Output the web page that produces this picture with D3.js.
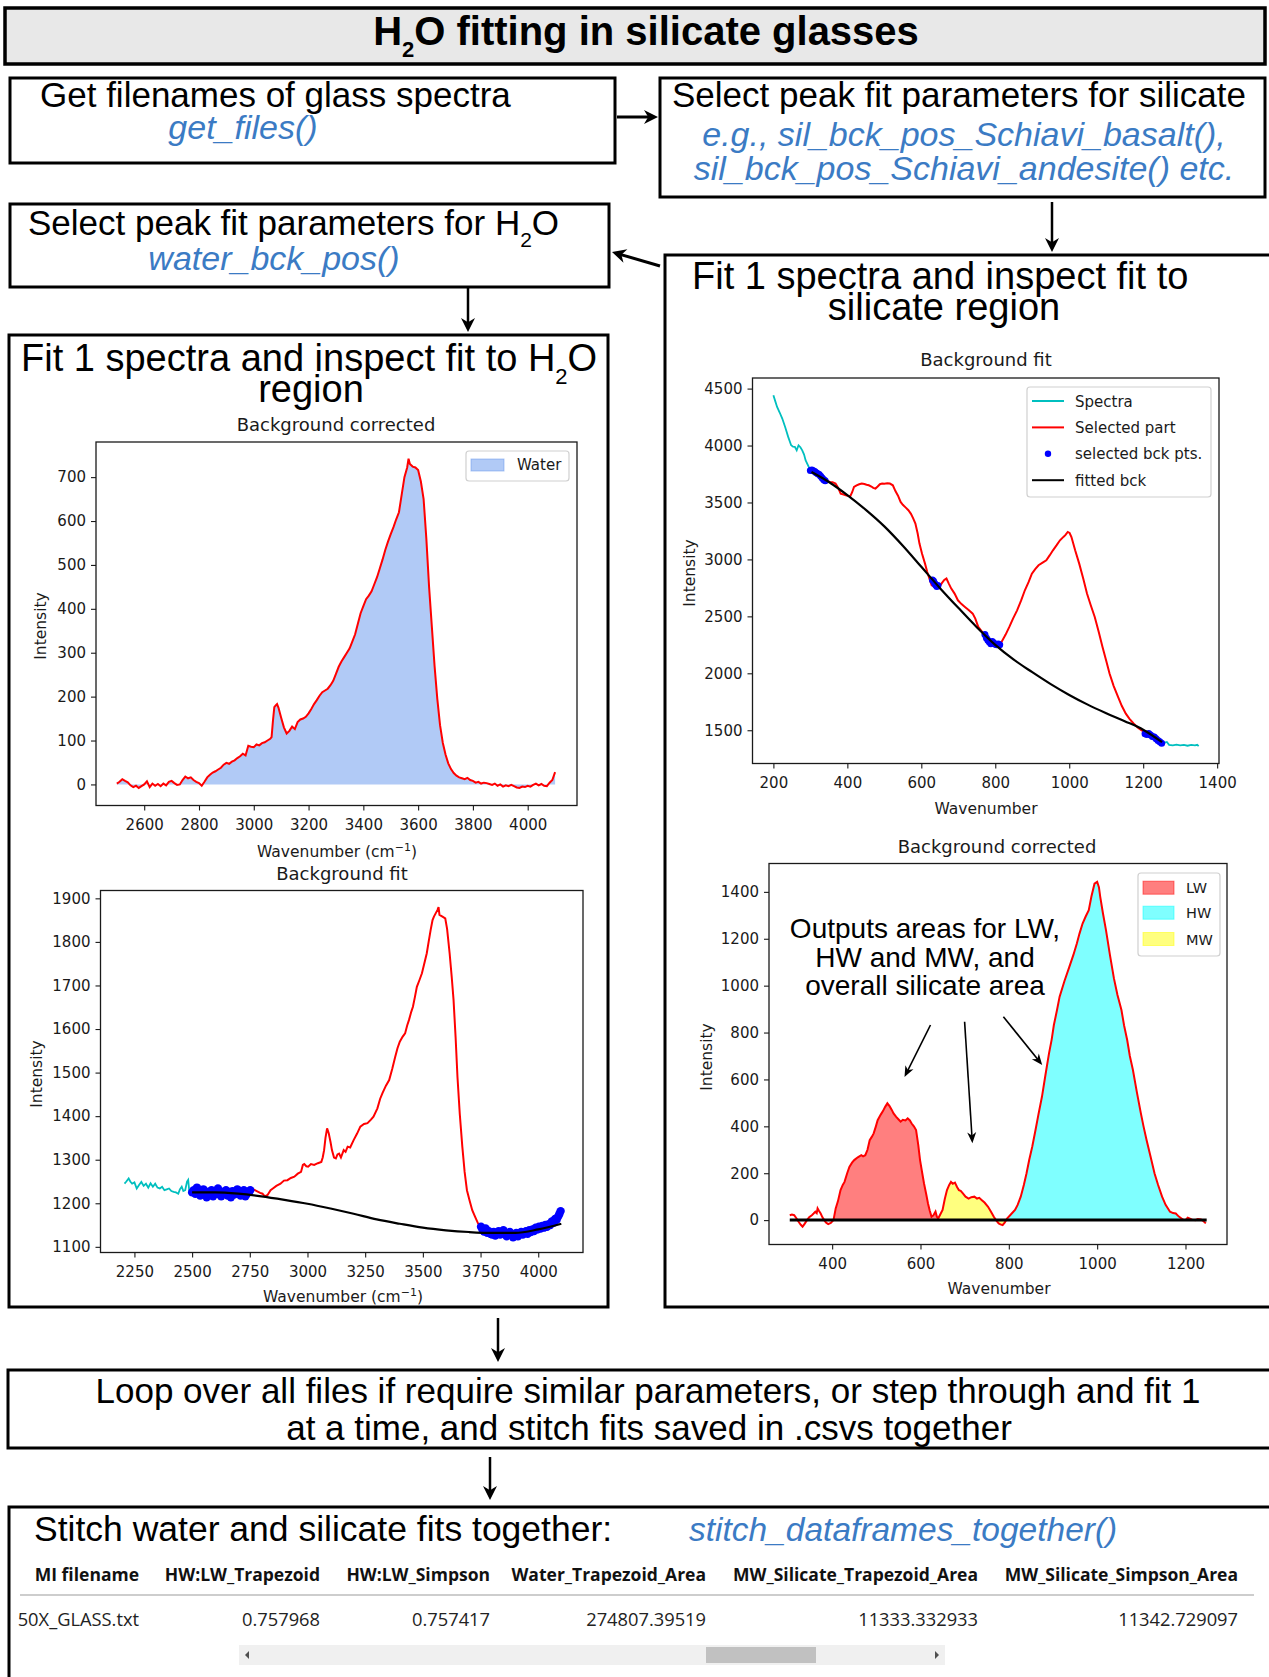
<!DOCTYPE html>
<html><head><meta charset="utf-8">
<script src="https://cdn.jsdelivr.net/npm/d3@7"></script>
<style>body{margin:0;background:#fff}svg{display:block}</style>
</head><body>
<svg id="c" width="1269" height="1677"></svg>
<script>
// ---------------- DATA ----------------
// Top-left: background-corrected water spectrum [wavenumber, intensity]
const waterCorr = [[2500,2],[2510,6],[2520,12],[2530,8],[2540,5],[2550,-2],[2560,-6],[2570,-3],[2580,-8],[2590,-4],[2600,0],[2610,7],[2620,-6],[2630,2],[2640,-3],[2650,1],[2660,-4],[2670,2],[2680,-2],[2690,6],[2700,8],[2710,3],[2720,-1],[2730,0],[2740,10],[2750,18],[2760,14],[2770,16],[2780,10],[2790,6],[2800,3],[2810,-3],[2820,6],[2830,16],[2840,22],[2850,27],[2860,30],[2870,34],[2880,38],[2890,45],[2900,49],[2910,47],[2920,52],[2930,55],[2940,60],[2950,64],[2960,70],[2970,66],[2980,88],[2990,86],[3000,85],[3010,91],[3020,89],[3030,94],[3040,96],[3050,100],[3060,104],[3065,108],[3070,145],[3075,176],[3080,180],[3085,183],[3090,175],[3100,152],[3110,130],[3120,116],[3130,122],[3140,132],[3150,126],[3160,142],[3170,148],[3180,150],[3190,154],[3200,162],[3210,172],[3220,183],[3230,192],[3240,202],[3250,210],[3260,214],[3270,218],[3280,226],[3290,236],[3300,252],[3310,268],[3320,280],[3330,290],[3340,300],[3350,310],[3360,326],[3370,342],[3380,366],[3390,390],[3400,406],[3410,422],[3420,430],[3430,440],[3440,456],[3450,472],[3460,492],[3470,512],[3480,534],[3490,553],[3500,570],[3510,586],[3520,604],[3530,620],[3540,660],[3550,700],[3560,722],[3565,742],[3570,730],[3580,724],[3590,722],[3600,716],[3610,690],[3620,650],[3630,560],[3640,450],[3650,360],[3660,270],[3670,195],[3680,135],[3690,95],[3700,68],[3710,48],[3720,35],[3730,26],[3740,20],[3750,16],[3760,14],[3770,12],[3780,15],[3790,10],[3800,8],[3810,4],[3820,6],[3830,2],[3840,4],[3850,3],[3860,1],[3870,-1],[3880,2],[3890,-3],[3900,0],[3910,-5],[3920,-2],[3930,-4],[3940,-1],[3950,-4],[3960,-7],[3970,-8],[3980,-5],[3990,-6],[4000,-3],[4010,-5],[4020,-1],[4030,2],[4040,-2],[4050,1],[4060,-3],[4070,-4],[4080,4],[4090,10],[4100,28]];

// Bottom-left: water background fit
const waterSpectra = [[2207,1245],[2215,1250],[2225,1257],[2232,1250],[2240,1245],[2250,1248],[2260,1234],[2270,1242],[2280,1249],[2290,1240],[2300,1245],[2310,1236],[2320,1246],[2330,1238],[2340,1245],[2350,1236],[2360,1234],[2370,1238],[2380,1230],[2390,1232],[2400,1234],[2410,1228],[2420,1226],[2430,1225],[2440,1222],[2447,1232],[2455,1238],[2462,1228],[2470,1230],[2478,1250],[2483,1254],[2488,1226],[2495,1226],[2500,1225]];
const waterSelected = [[2750,1238],[2765,1232],[2780,1228],[2795,1224],[2805,1222],[2815,1216],[2827,1219],[2840,1230],[2850,1234],[2865,1240],[2883,1245],[2898,1252],[2913,1253],[2928,1258],[2943,1261],[2958,1268],[2972,1272],[2980,1288],[2986,1290],[2995,1285],[3003,1284],[3015,1290],[3029,1288],[3045,1292],[3060,1295],[3066,1305],[3072,1322],[3078,1350],[3085,1372],[3092,1361],[3100,1340],[3106,1322],[3115,1305],[3123,1303],[3130,1312],[3137,1314],[3145,1305],[3157,1322],[3165,1318],[3174,1330],[3185,1328],[3200,1345],[3215,1360],[3229,1376],[3245,1382],[3260,1384],[3275,1392],[3286,1399],[3303,1418],[3315,1440],[3325,1453],[3340,1470],[3354,1483],[3368,1510],[3380,1536],[3390,1556],[3400,1571],[3412,1582],[3423,1590],[3432,1608],[3440,1621],[3450,1640],[3457,1651],[3465,1672],[3474,1697],[3485,1712],[3496,1728],[3506,1750],[3517,1774],[3525,1800],[3534,1828],[3542,1850],[3548,1858],[3556,1866],[3563,1873],[3568,1880],[3572,1862],[3585,1858],[3597,1854],[3605,1830],[3616,1774],[3625,1720],[3633,1667],[3642,1580],[3650,1490],[3660,1405],[3671,1330],[3681,1272],[3691,1230],[3703,1205],[3714,1184],[3727,1168],[3739,1154],[3751,1146]];
const waterBckPts = [[2500,1225],[2507,1230],[2514,1222],[2521,1236],[2528,1228],[2535,1218],[2542,1224],[2549,1232],[2556,1220],[2563,1214],[2570,1226],[2577,1219],[2584,1230],[2591,1216],[2598,1222],[2605,1228],[2612,1234],[2619,1220],[2626,1216],[2633,1226],[2640,1222],[2647,1230],[2654,1218],[2661,1224],[2668,1214],[2675,1228],[2682,1220],[2689,1226],[2696,1232],[2703,1222],[2710,1218],[2717,1224],[2724,1230],[2731,1216],[2738,1222],[2745,1226],[2752,1230],
 [3752,1146],[3758,1140],[3765,1135],[3772,1142],[3779,1132],[3786,1136],[3793,1130],[3800,1128],[3807,1134],[3814,1126],[3821,1132],[3828,1136],[3835,1128],[3842,1132],[3849,1138],[3856,1130],[3863,1124],[3870,1130],[3877,1134],[3884,1128],[3891,1122],[3898,1128],[3905,1132],[3912,1124],[3919,1130],[3926,1134],[3933,1128],[3940,1132],[3947,1136],[3954,1130],[3961,1138],[3968,1134],[3975,1140],[3982,1136],[3989,1144],[3996,1140],[4003,1146],[4010,1142],[4017,1148],[4024,1144],[4031,1150],[4038,1146],[4045,1152],[4052,1150],[4059,1158],[4066,1155],[4073,1164],[4080,1162],[4087,1170],[4092,1176],[4097,1182]];
const waterFit = [[2500,1225],[2600,1225],[2700,1222],[2800,1216],[2900,1208],[3000,1199],[3100,1188],[3200,1176],[3300,1163],[3400,1153],[3500,1144],[3600,1138],[3700,1134],[3800,1132],[3900,1132],[4000,1140],[4100,1153]];

// Top-right: silicate background fit
const silSpectraLeft = [[200,4441],[205,4390],[210,4339],[217,4290],[224,4237],[232,4160],[240,4076],[248,4002],[253,3990],[258,3988],[263,3958],[268,4002],[273,3985],[278,3958],[283,3920],[287,3871],[293,3830],[298,3797],[303,3785]];
const silSpectraRight = [[1251,1383],[1258,1392],[1264,1397],[1270,1372],[1280,1368],[1290,1374],[1300,1368],[1310,1372],[1320,1364],[1330,1371],[1340,1368],[1346,1372],[1350,1360]];
const silSelected = [[303,3785],[308,3770],[313,3754],[320,3735],[327,3712],[334,3695],[340,3690],[346,3688],[353,3680],[360,3678],[368,3666],[375,3630],[382,3578],[390,3570],[398,3560],[408,3555],[413,3590],[418,3636],[425,3650],[432,3660],[439,3666],[446,3662],[452,3656],[458,3651],[465,3640],[470,3628],[476,3622],[482,3640],[488,3660],[494,3666],[500,3664],[508,3668],[515,3666],[523,3651],[530,3600],[537,3560],[544,3505],[550,3480],[558,3455],[565,3432],[572,3400],[578,3360],[584,3315],[590,3230],[595,3139],[602,3050],[610,2963],[616,2890],[622,2830],[628,2773],[635,2762],[642,2759],[649,2760],[655,2790],[662,2820],[668,2832],[674,2790],[681,2744],[690,2700],[699,2641],[708,2610],[718,2583],[728,2555],[739,2524],[746,2480],[754,2407],[764,2365],[775,2319],[786,2290],[796,2261],[806,2266],[817,2276],[828,2340],[838,2407],[848,2480],[859,2553],[870,2640],[880,2729],[890,2800],[899,2875],[908,2915],[917,2949],[928,2972],[938,2993],[947,3035],[956,3080],[966,3125],[975,3168],[985,3200],[990,3215],[996,3241],[1001,3232],[1006,3197],[1016,3080],[1027,2963],[1038,2830],[1048,2700],[1058,2600],[1069,2495],[1080,2360],[1090,2232],[1100,2110],[1109,1998],[1120,1890],[1132,1793],[1142,1715],[1153,1646],[1163,1600],[1174,1559],[1185,1525],[1195,1500],[1203,1485],[1211,1471],[1222,1450],[1232,1427],[1242,1405],[1251,1383]];
const silBckPts = [[300,3780],[304,3785],[308,3778],[312,3772],[316,3760],[320,3752],[324,3745],[328,3730],[332,3715],[336,3700],[340,3690],
 [630,2820],[633,2810],[636,2790],[639,2775],[642,2762],[645,2770],
 [772,2340],[776,2310],[780,2290],[784,2275],[788,2260],[792,2280],[796,2265],[800,2255],[804,2250],[808,2258],[812,2250],
 [1205,1470],[1210,1462],[1215,1472],[1220,1458],[1225,1445],[1230,1440],[1235,1425],[1240,1410],[1245,1400],[1250,1385]];
const silFit = [[303,3768],[350,3680],[400,3565],[450,3435],[500,3290],[550,3120],[600,2935],[650,2750],[700,2575],[750,2405],[800,2250],[850,2120],[900,2010],[950,1905],[1000,1810],[1050,1725],[1100,1650],[1150,1580],[1200,1505],[1251,1395]];

// Bottom-right: silicate background corrected
const silCorr = [[304,21],[309,24],[314,21],[319,8],[324,-7],[329,-20],[333,-28],[338,-15],[343,0],[348,12],[354,21],[358,28],[362,36],[365,30],[367,50],[370,40],[374,28],[378,12],[382,0],[386,-10],[391,-17],[397,-12],[403,0],[408,50],[413,80],[419,128],[424,150],[428,163],[434,200],[439,227],[445,245],[450,256],[458,268],[466,277],[470,272],[475,277],[480,300],[485,341],[490,356],[494,370],[499,400],[503,426],[510,450],[515,465],[520,483],[525,498],[530,486],[535,470],[539,455],[545,440],[550,430],[555,420],[560,428],[566,425],[571,434],[576,425],[580,412],[585,400],[590,384],[595,320],[599,256],[604,200],[608,156],[613,110],[617,71],[621,40],[625,14],[629,20],[634,36],[637,15],[640,7],[645,25],[650,43],[655,90],[660,128],[665,150],[669,163],[673,155],[678,160],[683,140],[687,128],[691,125],[696,114],[702,100],[709,92],[715,98],[722,100],[728,92],[733,95],[739,85],[745,75],[753,57],[760,35],[766,14],[771,0],[777,-14],[781,-18],[786,-21],[791,-10],[796,7],[805,25],[814,43],[820,65],[827,100],[834,150],[840,199],[846,255],[853,313],[860,380],[867,450],[875,526],[883,620],[891,711],[897,770],[902,832],[909,895],[915,953],[926,1020],[937,1080],[946,1130],[954,1180],[960,1222],[967,1265],[974,1295],[981,1322],[987,1380],[994,1435],[1000,1443],[1004,1420],[1007,1379],[1013,1310],[1020,1237],[1029,1130],[1038,1031],[1046,960],[1055,896],[1061,830],[1068,768],[1074,700],[1081,640],[1090,545],[1099,455],[1105,400],[1112,341],[1121,270],[1130,199],[1138,150],[1147,100],[1155,65],[1165,36],[1172,30],[1178,28],[1185,15],[1191,7],[1196,0],[1200,0],[1205,10],[1209,7],[1215,2],[1222,0],[1228,5],[1235,3],[1241,-5],[1246,-14]];
const bandNames = ["LW","HW","MW"];
const bandRanges = {LW:[403,640], MW:[640,796], HW:[796,1246]};
const zeroLine = [[304,0],[1248,0]];

// Tick values
const tlXTicks = [2600,2800,3000,3200,3400,3600,3800,4000];
const tlYTicks = [0,100,200,300,400,500,600,700];
const blXTicks = [2250,2500,2750,3000,3250,3500,3750,4000];
const blYTicks = [1100,1200,1300,1400,1500,1600,1700,1800,1900];
const trXTicks = [200,400,600,800,1000,1200,1400];
const trYTicks = [1500,2000,2500,3000,3500,4000,4500];
const brXTicks = [400,600,800,1000,1200];
const brYTicks = [0,200,400,600,800,1000,1200,1400];

// Table
const tableHeaders = ["MI filename","HW:LW_Trapezoid","HW:LW_Simpson","Water_Trapezoid_Area","MW_Silicate_Trapezoid_Area","MW_Silicate_Simpson_Area"];
const tableRow = ["50X_GLASS.txt","0.757968","0.757417","274807.39519","11333.332933","11342.729097"];

// ---------------- DRAWING ----------------
const svg = d3.select('#c');
const SANS = "'Liberation Sans', Arial, sans-serif";
const MPL = "'DejaVu Sans', sans-serif";
const BLUE = '#3b7bc4';
const defs = svg.append('defs');

function box(x,y,w,h,fill,sw){
  svg.append('rect').attr('x',x).attr('y',y).attr('width',w).attr('height',h)
    .attr('fill',fill||'#fff').attr('stroke','#000').attr('stroke-width',sw||3);
}
function text(x,y,parts,opt){
  opt=opt||{};
  const t = svg.append('text').attr('x',x).attr('y',y)
    .attr('font-family',opt.family||SANS).attr('font-size',opt.size||35)
    .attr('font-weight',opt.weight||'normal').attr('font-style',opt.style||'normal')
    .attr('fill',opt.fill||'#000').attr('text-anchor',opt.anchor||'start');
  if(typeof parts==='string'){ t.text(parts); return t; }
  let shift=0;
  parts.forEach(p=>{
    if(typeof p==='string'){ t.append('tspan').attr('dy',-shift).text(p); shift=0; }
    else { t.append('tspan').attr('dy',p.dy-shift).attr('font-size',p.size).text(p.t); shift=p.dy; }
  });
  return t;
}
function arrow(x1,y1,x2,y2,w,L,H){
  const dx=x2-x1, dy=y2-y1, len=Math.hypot(dx,dy), ux=dx/len, uy=dy/len;
  const bx=x2-ux*L, by=y2-uy*L;
  svg.append('line').attr('x1',x1).attr('y1',y1).attr('x2',x2-ux*L*0.6).attr('y2',y2-uy*L*0.6)
    .attr('stroke','#000').attr('stroke-width',w);
  svg.append('path').attr('d',`M${x2},${y2}L${bx-uy*H},${by+ux*H}L${x2-ux*L*0.7},${y2-uy*L*0.7}L${bx+uy*H},${by-ux*H}Z`).attr('fill','#000');
}

// Title box
box(5,8,1260,56,'#e8e8e8',3.5);
text(646,45,['H',{t:'2',dy:12,size:22},'O fitting in silicate glasses'],{size:40,weight:'bold',anchor:'middle'});

// Flow boxes
box(10,78,605,85);
text(40,107,'Get filenames of glass spectra');
text(243,139,'get_files()',{fill:BLUE,style:'italic',size:34,anchor:'middle'});

box(660,78,605,119);
text(672,107,'Select peak fit parameters for silicate');
text(964,146,'e.g., sil_bck_pos_Schiavi_basalt(),',{fill:BLUE,style:'italic',size:34,anchor:'middle'});
text(964,180,'sil_bck_pos_Schiavi_andesite() etc.',{fill:BLUE,style:'italic',size:34,anchor:'middle'});

box(10,204,599,83);
text(28,235,['Select peak fit parameters for H',{t:'2',dy:12,size:21},'O']);
text(274,270,'water_bck_pos()',{fill:BLUE,style:'italic',size:34,anchor:'middle'});

box(665,255,640,1052);
text(692,289,'Fit 1 spectra and inspect fit to',{size:38});
text(944,320,'silicate region',{size:38,anchor:'middle'});

box(9,335,599,972);
text(21,371,['Fit 1 spectra and inspect fit to H',{t:'2',dy:13,size:22},'O'],{size:38});
text(311,402,'region',{size:38,anchor:'middle'});

box(8,1370,1290,78);
text(648,1403,'Loop over all files if require similar parameters, or step through and fit 1',{anchor:'middle'});
text(649,1440,'at a time, and stitch fits saved in .csvs together',{anchor:'middle'});

box(9,1507,1290,220);
text(34,1541,'Stitch water and silicate fits together:',{size:35.5});
text(689,1541,'stitch_dataframes_together()',{fill:BLUE,style:'italic',size:33.5});

// Flow arrows
arrow(617,117,658,117,3,14,7);
arrow(1052,202,1052,252,2.5,14,7);
arrow(660,266,612,252,3,14,7);
arrow(468,287,468,332,2.5,14,7);
arrow(498,1318,498,1362,2.5,14,7);
arrow(490,1457,490,1500,2.5,14,7);

// ---------- chart helper ----------
let clipN=0;
function panel(p){
  const x = d3.scaleLinear().domain(p.xd).range([p.l,p.r]);
  const y = d3.scaleLinear().domain(p.yd).range([p.b,p.t]);
  const id='clip'+(clipN++);
  defs.append('clipPath').attr('id',id).append('rect')
    .attr('x',p.l).attr('y',p.t).attr('width',p.r-p.l).attr('height',p.b-p.t);
  const g = svg.append('g');
  const plot = g.append('g').attr('clip-path',`url(#${id})`);
  const ax = g.append('g').attr('transform',`translate(0,${p.b})`)
    .call(d3.axisBottom(x).tickValues(p.xt).tickSize(5).tickPadding(9).tickFormat(d3.format('d')));
  const ay = g.append('g').attr('transform',`translate(${p.l},0)`)
    .call(d3.axisLeft(y).tickValues(p.yt).tickSize(5).tickPadding(5).tickFormat(d3.format('d')));
  [ax,ay].forEach(a=>{
    a.select('.domain').remove();
    a.selectAll('text').attr('font-family',MPL).attr('font-size',15).attr('fill','#1a1a1a');
    a.selectAll('line').attr('stroke','#1a1a1a').attr('stroke-width',1.1);
  });
  g.append('rect').attr('x',p.l).attr('y',p.t).attr('width',p.r-p.l).attr('height',p.b-p.t)
    .attr('fill','none').attr('stroke','#1a1a1a').attr('stroke-width',1.3);
  g.append('text').attr('x',p.tx).attr('y',p.ty).attr('text-anchor','middle')
    .attr('font-family',MPL).attr('font-size',18).attr('fill','#1a1a1a').text(p.title);
  const xl = g.append('text').attr('x',p.xlx).attr('y',p.xly).attr('text-anchor','middle')
    .attr('font-family',MPL).attr('font-size',15.5).attr('fill','#1a1a1a');
  if(p.cm){
    xl.append('tspan').text('Wavenumber (cm');
    xl.append('tspan').attr('dy',-6).attr('font-size',11).text('\u22121');
    xl.append('tspan').attr('dy',6).text(')');
  } else xl.text('Wavenumber');
  g.append('text').attr('transform',`translate(${p.ylx},${p.yly}) rotate(-90)`).attr('text-anchor','middle')
    .attr('font-family',MPL).attr('font-size',15.5).attr('fill','#1a1a1a').text('Intensity');
  return {x,y,plot,g};
}
function legendFrame(g,x,y,w,h){
  g.append('rect').attr('x',x).attr('y',y).attr('width',w).attr('height',h).attr('rx',3)
    .attr('fill','#fff').attr('fill-opacity',0.85).attr('stroke','#d0d0d0').attr('stroke-width',1.2);
}
function legText(g,x,y,s,size){
  g.append('text').attr('x',x).attr('y',y).attr('font-family',MPL).attr('font-size',size||15).attr('fill','#1a1a1a').text(s);
}

// ---------- Top-left: water background corrected ----------
{
  const P = panel({l:96,r:577,t:442,b:805.5,xd:[2424,4180],yd:[-48,780],xt:tlXTicks,yt:tlYTicks,
    title:'Background corrected',tx:336,ty:431,xlx:337,xly:857,cm:true,ylx:46,yly:626});
  const {x,y,plot,g}=P;
  plot.append('path').datum(waterCorr)
    .attr('d',d3.area().x(d=>x(d[0])).y0(y(0)).y1(d=>y(d[1])))
    .attr('fill','#6495ed').attr('fill-opacity',0.5);
  plot.append('path').datum(waterCorr)
    .attr('d',d3.line().x(d=>x(d[0])).y(d=>y(d[1])))
    .attr('fill','none').attr('stroke','#ff0000').attr('stroke-width',2);
  legendFrame(g,466,451,103,30);
  g.append('rect').attr('x',471).attr('y',459).attr('width',33).attr('height',12)
    .attr('fill','#6495ed').attr('fill-opacity',0.5).attr('stroke','#6495ed').attr('stroke-opacity',0.5);
  legText(g,517,470,'Water');
}

// ---------- Bottom-left: water background fit ----------
{
  const P = panel({l:100.5,r:583,t:890.5,b:1252.5,xd:[2103,4194],yd:[1087,1918],xt:blXTicks,yt:blYTicks,
    title:'Background fit',tx:342,ty:880,xlx:343,xly:1302,cm:true,ylx:42,yly:1074});
  const {x,y,plot}=P;
  const line=d3.line().x(d=>x(d[0])).y(d=>y(d[1]));
  plot.append('path').datum(waterSpectra).attr('d',line).attr('fill','none').attr('stroke','#00bfbf').attr('stroke-width',1.8);
  plot.append('path').datum(waterSelected).attr('d',line).attr('fill','none').attr('stroke','#ff0000').attr('stroke-width',2);
  plot.selectAll('circle.bp').data(waterBckPts).join('circle').attr('class','bp')
    .attr('cx',d=>x(d[0])).attr('cy',d=>y(d[1])).attr('r',4.2).attr('fill','#0000ff');
  plot.append('path').datum(waterFit).attr('d',line.curve(d3.curveMonotoneX)).attr('fill','none').attr('stroke','#000').attr('stroke-width',2.2);
}

// ---------- Top-right: silicate background fit ----------
{
  const P = panel({l:752.5,r:1219,t:378,b:763.5,xd:[143.5,1405],yd:[1208,4593],xt:trXTicks,yt:trYTicks,
    title:'Background fit',tx:986,ty:366,xlx:986,xly:814,cm:false,ylx:695,yly:573});
  const {x,y,plot,g}=P;
  const line=d3.line().x(d=>x(d[0])).y(d=>y(d[1]));
  plot.append('path').datum(silSpectraLeft).attr('d',line).attr('fill','none').attr('stroke','#00bfbf').attr('stroke-width',1.8);
  plot.append('path').datum(silSpectraRight).attr('d',line).attr('fill','none').attr('stroke','#00bfbf').attr('stroke-width',1.8);
  plot.append('path').datum(silSelected).attr('d',line).attr('fill','none').attr('stroke','#ff0000').attr('stroke-width',2);
  plot.selectAll('circle.bp').data(silBckPts).join('circle').attr('class','bp')
    .attr('cx',d=>x(d[0])).attr('cy',d=>y(d[1])).attr('r',3.5).attr('fill','#0000ff');
  plot.append('path').datum(silFit).attr('d',d3.line().x(d=>x(d[0])).y(d=>y(d[1])).curve(d3.curveMonotoneX))
    .attr('fill','none').attr('stroke','#000').attr('stroke-width',2.2);
  legendFrame(g,1027,387,184,110);
  const items=[['Spectra','line','#00bfbf'],['Selected part','line','#ff0000'],['selected bck pts.','dot','#0000ff'],['fitted bck','line','#000']];
  items.forEach((it,i)=>{
    const cy=401+i*26.4;
    if(it[1]==='line') g.append('line').attr('x1',1032).attr('x2',1064).attr('y1',cy).attr('y2',cy).attr('stroke',it[2]).attr('stroke-width',2);
    else g.append('circle').attr('cx',1048).attr('cy',cy).attr('r',3.2).attr('fill',it[2]);
    legText(g,1075,cy+5.5,it[0]);
  });
}

// ---------- Bottom-right: silicate background corrected ----------
{
  const P = panel({l:769,r:1227,t:863.5,b:1244.5,xd:[257,1294],yd:[-104,1521],xt:brXTicks,yt:brYTicks,
    title:'Background corrected',tx:997,ty:853,xlx:999,xly:1294,cm:false,ylx:712,yly:1057});
  const {x,y,plot,g}=P;
  const colors={LW:'#ff0000',HW:'#00ffff',MW:'#ffff00'};
  const area=d3.area().x(d=>x(d[0])).y0(y(0)).y1(d=>y(d[1]));
  bandNames.forEach(n=>{
    const r=bandRanges[n];
    plot.append('path').datum(silCorr.filter(d=>d[0]>=r[0]&&d[0]<=r[1]))
      .attr('d',area).attr('fill',colors[n]).attr('fill-opacity',0.5);
  });
  plot.append('path').datum(silCorr).attr('d',d3.line().x(d=>x(d[0])).y(d=>y(d[1])))
    .attr('fill','none').attr('stroke','#ff0000').attr('stroke-width',2);
  plot.append('path').datum(zeroLine).attr('d',d3.line().x(d=>x(d[0])).y(d=>y(d[1])))
    .attr('fill','none').attr('stroke','#000').attr('stroke-width',3);
  legendFrame(g,1138,873,82,83);
  bandNames.forEach((n,i)=>{
    const cy=[887.7,912.7,939][i];
    g.append('rect').attr('x',1143).attr('y',cy-6.5).attr('width',31).attr('height',13)
      .attr('fill',colors[n]).attr('fill-opacity',0.5).attr('stroke',colors[n]).attr('stroke-opacity',0.5);
    legText(g,1186,cy+5.5,n,14.5);
  });
  // annotation
  const ann=['Outputs areas for LW,','HW and MW, and','overall silicate area'];
  ann.forEach((s,i)=>text(925,938+i*28.7,s,{size:28,anchor:'middle'}));
  arrow(930.5,1025,904.5,1077,1.6,11,4.5);
  arrow(964.6,1021.7,972.4,1143.3,1.6,11,4.5);
  arrow(1003.4,1016.7,1042.2,1065,1.6,11,4.5);
}

// ---------- Table ----------
{
  const TF="'Open Sans', 'Noto Sans', sans-serif";
  const rights=[139,320,490,706,978,1238];
  tableHeaders.forEach((h,i)=>text(rights[i],1581,h,{family:TF,size:17.5,weight:'bold',anchor:'end',fill:'#111'}));
  svg.append('line').attr('x1',20).attr('x2',1254).attr('y1',1595).attr('y2',1595).attr('stroke','#bdbdbd').attr('stroke-width',1.6);
  tableRow.forEach((v,i)=>text(rights[i],1626,v,{family:TF,size:18.3,anchor:'end',fill:'#222'}));
  svg.append('rect').attr('x',239).attr('y',1645).attr('width',706).attr('height',20).attr('fill','#f0f0f0');
  svg.append('rect').attr('x',706).attr('y',1647).attr('width',110).attr('height',16).attr('fill','#c1c1c1');
  svg.append('path').attr('d','M245,1655L249,1651L249,1659Z').attr('fill','#505050');
  svg.append('path').attr('d','M939,1655L935,1651L935,1659Z').attr('fill','#505050');
}
</script>
</body></html>
